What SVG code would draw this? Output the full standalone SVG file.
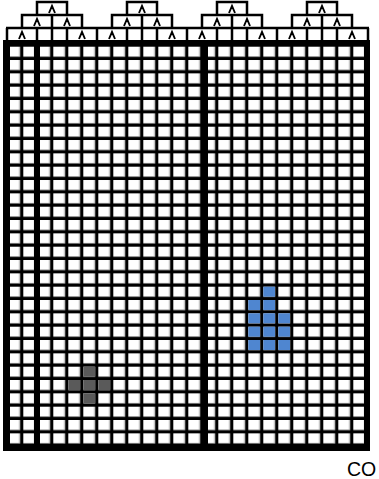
<svg xmlns="http://www.w3.org/2000/svg" width="379" height="479" viewBox="0 0 379 479">
<style>
.hl{stroke:#000;stroke-width:2.5;fill:none}
.ca{stroke:#000;stroke-width:1.9;fill:none}
.blue{fill:#4f86d0}
.gray{fill:#5a5a5a}
</style>
<defs>
<pattern id="cells" patternUnits="userSpaceOnUse" x="8.3" y="46.7" width="15" height="13.333">
<rect x="0" y="0" width="11.7" height="10" fill="#fff"/>
<rect x="10.7" y="0" width="1" height="10" fill="#b8b8b8"/>
</pattern>
</defs>
<rect width="379" height="479" fill="#fff"/>
<g id="header">
<path class="hl" d="M6 28H369 M7 28V41 M37 28V41 M52 28V41 M67 28V41 M97 28V41 M127 28V41 M142 28V41 M157 28V41 M187 28V41 M217 28V41 M232 28V41 M247 28V41 M277 28V41 M307 28V41 M322 28V41 M337 28V41 M368 28V41"/>
<path class="ca" d="M19 39L22 32L25 39 M79 39L82 32L85 39 M109 39L112 32L115 39 M169 39L172 32L175 39 M199 39L202 32L205 39 M259 39L262 32L265 39 M289 39L292 32L295 39 M349 39L352 32L355 39"/>
<path class="hl" d="M22 28V15H82V28 M52 15V28 M112 28V15H172V28 M142 15V28 M202 28V15H262V28 M232 15V28 M292 28V15H352V28 M322 15V28"/>
<path class="ca" d="M34 26L37 19L40 26 M64 26L67 19L70 26 M124 26L127 19L130 26 M154 26L157 19L160 26 M214 26L217 19L220 26 M244 26L247 19L250 26 M304 26L307 19L310 26 M334 26L337 19L340 26"/>
<path class="hl" d="M37 15V2H67V15 M127 15V2H157V15 M217 15V2H247V15 M307 15V2H337V15"/>
<path class="ca" d="M49 13L52 6L55 13 M139 13L142 6L145 13 M229 13L232 6L235 13 M319 13L322 6L325 13"/>
</g>
<g id="grid">
<rect x="3" y="40" width="367" height="411" fill="#000"/>
<rect x="10" y="45" width="354" height="399" fill="url(#cells)"/>
<rect x="34" y="40" width="6" height="411" fill="#000"/>
<rect x="202" y="40" width="6" height="411" fill="#000"/>
</g>
<g id="blue-shape" class="blue">
<rect x="263.3" y="286.7" width="11.7" height="10"/>
<rect x="248.3" y="300" width="11.7" height="10"/>
<rect x="263.3" y="300" width="11.7" height="10"/>
<rect x="248.3" y="313.3" width="11.7" height="10"/>
<rect x="263.3" y="313.3" width="11.7" height="10"/>
<rect x="278.3" y="313.3" width="11.7" height="10"/>
<rect x="248.3" y="326.7" width="11.7" height="10"/>
<rect x="263.3" y="326.7" width="11.7" height="10"/>
<rect x="278.3" y="326.7" width="11.7" height="10"/>
<rect x="248.3" y="340" width="11.7" height="10"/>
<rect x="263.3" y="340" width="11.7" height="10"/>
<rect x="278.3" y="340" width="11.7" height="10"/>
</g>
<g id="gray-shape" class="gray">
<rect x="83.3" y="366.7" width="11.7" height="10"/>
<rect x="68.3" y="380" width="11.7" height="10"/>
<rect x="83.3" y="380" width="11.7" height="10"/>
<rect x="98.3" y="380" width="11.7" height="10"/>
<rect x="83.3" y="393.3" width="11.7" height="10"/>
</g>
<text x="347" y="476" font-family="Liberation Sans, Arial, sans-serif" font-size="19.5" fill="#000">CO</text>
</svg>
